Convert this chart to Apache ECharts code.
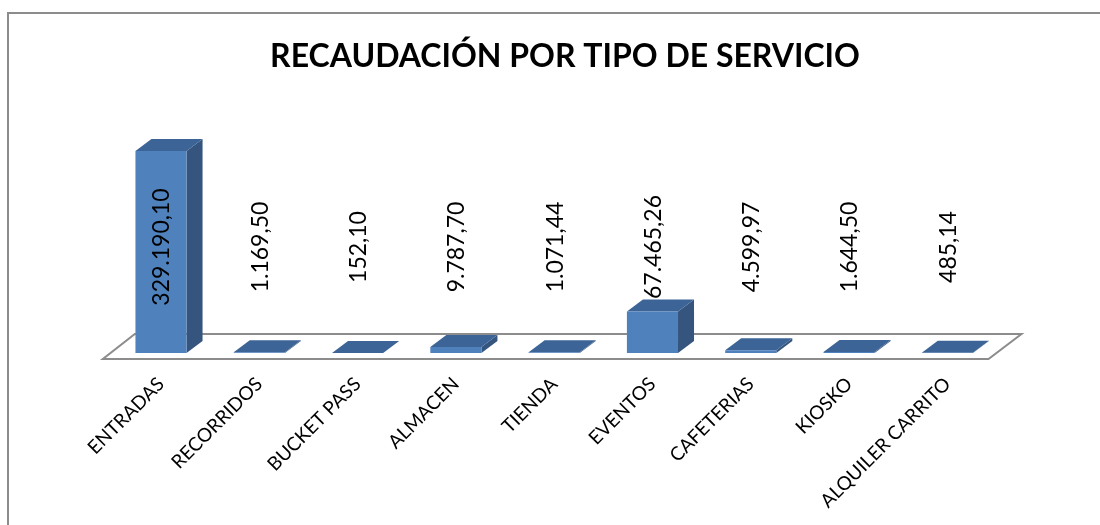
<!DOCTYPE html>
<html>
<head>
<meta charset="utf-8">
<script src="https://cdn.jsdelivr.net/npm/echarts@6/dist/echarts.min.js"></script>
<style>
  html, body { margin: 0; padding: 0; background: #fff; }
  #chart { width: 1100px; height: 525px; }
</style>
</head>
<body>
<div id="chart"></div>
<script>
var categories = ['ENTRADAS', 'RECORRIDOS', 'BUCKET PASS', 'ALMACEN', 'TIENDA', 'EVENTOS', 'CAFETERIAS', 'KIOSKO', 'ALQUILER CARRITO'];
var values = [329190.10, 1169.50, 152.10, 9787.70, 1071.44, 67465.26, 4599.97, 1644.50, 485.14];
var titleText = 'RECAUDACIÓN POR TIPO DE SERVICIO';

// 329190.1 -> "329.190,10"
function fmt(v) {
    var parts = v.toFixed(2).split('.');
    var ent = parts[0].replace(/\B(?=(\d{3})+(?!\d))/g, '.');
    return ent + ',' + parts[1];
}

var DX = 16, DY = -12;

function renderFloor(params, api) {
    var cs = params.coordSys;
    var yb = cs.y + cs.height;
    var pts = [
        [cs.x - 9, yb + 6],
        [cs.x + cs.width - 8, yb + 6],
        [cs.x + cs.width + 25, yb - 19],
        [cs.x + 23, yb - 19]
    ];
    return {
        type: 'polygon',
        shape: { points: pts },
        style: { fill: '#fff', stroke: '#8c8c8c', lineWidth: 2 }
    };
}

function renderBar(params, api) {
    var i = api.value(0);
    var v = api.value(1);
    var base = api.coord([i, 0]);
    var top = api.coord([i, v]);
    var bw = api.size([1, 0])[0] * 0.52;
    var x0 = base[0] - bw / 2, x1 = base[0] + bw / 2;
    var yb = base[1], yt = top[1];
    var cs = params.coordSys;
    return {
        type: 'group',
        children: [
            {
                type: 'polygon',
                shape: { points: [[x1, yb], [x1 + DX, yb + DY], [x1 + DX, yt + DY], [x1, yt]] },
                style: { fill: '#35557f' }
            },
            {
                type: 'polygon',
                shape: { points: [[x0, yt], [x1, yt], [x1 + DX, yt + DY], [x0 + DX, yt + DY]] },
                style: { fill: '#3c6496' }
            },
            {
                type: 'rect',
                shape: { x: x0, y: yt, width: bw, height: yb - yt },
                style: { fill: '#4f81bd' }
            },
            {
                type: 'text',
                x: base[0] + 1,
                y: cs.y + cs.height / 2 - 5,
                rotation: Math.PI / 2,
                style: {
                    text: fmt(v),
                    fill: '#000',
                    font: '23px Lato',
                    align: 'center',
                    verticalAlign: 'middle'
                }
            }
        ]
    };
}

var chart = echarts.init(document.getElementById('chart'));
chart.setOption({
    animation: false,
    backgroundColor: '#fff',
    title: {
        text: titleText,
        left: 560,
        textAlign: 'center',
        top: 36,
        textStyle: { fontFamily: 'Lato', fontWeight: 'bold', fontSize: 32, color: '#000' }
    },
    graphic: [{
        type: 'polyline',
        shape: { points: [[8, 600], [8, 13], [1200, 13]] },
        style: { fill: 'none', stroke: '#8c8c8c', lineWidth: 2 },
        z: 0
    }],
    grid: { left: 111.85, right: 103.5, top: 151, bottom: 172 },
    xAxis: {
        type: 'category',
        data: categories,
        axisLine: { show: false },
        axisTick: { show: false },
        axisLabel: {
            interval: 0,
            rotate: 45,
            margin: 28,
            fontFamily: 'Lato',
            fontSize: 19,
            color: '#000'
        }
    },
    yAxis: {
        type: 'value',
        min: 0,
        max: 'dataMax',
        show: false
    },
    series: [
        {
            type: 'custom',
            renderItem: renderFloor,
            data: [[0, 0]],
            z: 1,
            silent: true
        },
        {
            type: 'custom',
            renderItem: renderBar,
            encode: { x: 0, y: 1 },
            data: values.map(function (v, i) { return [i, v]; }),
            z: 2
        }
    ]
});
</script>
</body>
</html>
